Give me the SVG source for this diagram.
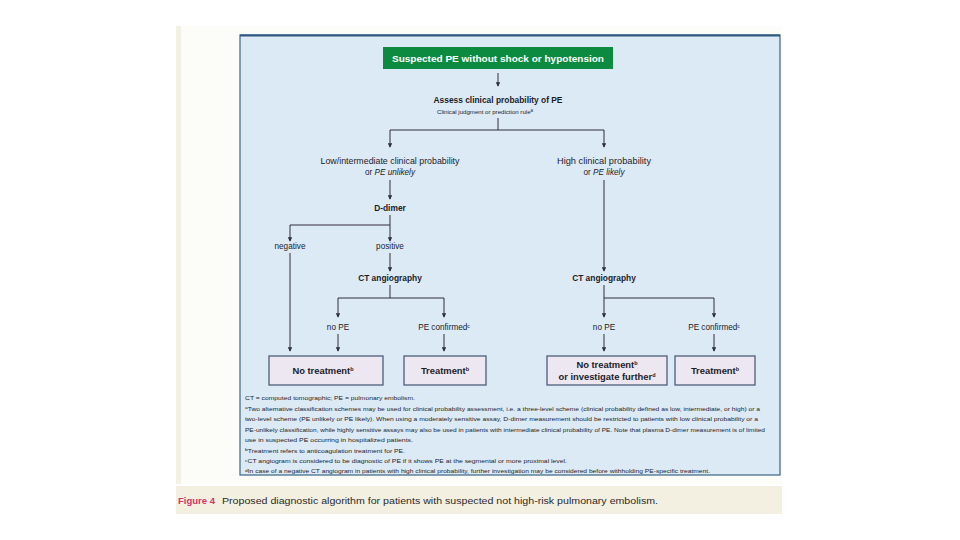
<svg xmlns="http://www.w3.org/2000/svg" width="960" height="540" viewBox="0 0 960 540">
<defs>
<style>
.t{font-family:"Liberation Sans","Open Sans",sans-serif;fill:#1c1c28}
.b{font-weight:bold}
.lbl{font-size:8.2px}
.hd{font-size:8.4px;font-weight:bold}
.bt{font-size:9.4px;font-weight:bold}
.bx{fill:#ece7f1;stroke:#4d5f78;stroke-width:1.3}
.fn{font-size:5.7px}
.c{fill:none;stroke:#2f2f3a;stroke-width:1}
</style>
<marker id="ah" viewBox="0 0 6 6" refX="5" refY="3" markerWidth="4.5" markerHeight="4.5" orient="auto" markerUnits="userSpaceOnUse">
<path d="M0,0 L6,3 L0,6 Z" fill="#2f2f3a"/>
</marker>
</defs>
<rect x="0" y="0" width="960" height="540" fill="#ffffff"/>
<rect x="176" y="26" width="606" height="458" fill="#fcfcf8"/>
<rect x="176" y="26" width="5" height="458" fill="#f3f1e4"/>
<rect x="176" y="486" width="606" height="28" fill="#f4f0e1"/>
<rect x="240" y="35" width="540" height="440" fill="#dceaf6" stroke="#3a6485" stroke-width="1.2"/>
<line x1="240" y1="35.5" x2="780" y2="35.5" stroke="#2b587c" stroke-width="2"/>

<g id="start">
<rect x="383" y="47" width="230" height="22" fill="#0c8a3f"/>
<text class="t b" x="498" y="61.5" font-size="9.4" text-anchor="middle" textLength="212" lengthAdjust="spacingAndGlyphs" style="fill:#ffffff">Suspected PE without shock or hypotension</text>
</g>
<g id="assess">
<text class="t hd" x="498" y="103" text-anchor="middle">Assess clinical probability of PE</text>
<text class="t" x="437" y="114" font-size="6.2" textLength="96" lengthAdjust="spacingAndGlyphs">Clinical judgment or prediction rule<tspan font-size="4.5" dy="-2">a</tspan></text>
</g>
<g id="low">
<text class="t lbl" x="390" y="164" text-anchor="middle" textLength="139" lengthAdjust="spacingAndGlyphs">Low/intermediate clinical probability</text>
<text class="t lbl" x="390" y="175" text-anchor="middle">or <tspan font-style="italic">PE unlikely</tspan></text>
</g>
<g id="high">
<text class="t lbl" x="604" y="164" text-anchor="middle" textLength="94" lengthAdjust="spacingAndGlyphs">High clinical probability</text>
<text class="t lbl" x="604" y="175" text-anchor="middle">or <tspan font-style="italic">PE likely</tspan></text>
</g>
<g id="ddimer">
<text class="t hd" x="390" y="211" text-anchor="middle">D-dimer</text>
</g>
<g id="negative">
<text class="t lbl" x="290" y="249" text-anchor="middle">negative</text>
</g>
<g id="positive">
<text class="t lbl" x="390" y="249" text-anchor="middle">positive</text>
</g>
<g id="ct1">
<text class="t hd" x="390" y="281" text-anchor="middle">CT angiography</text>
</g>
<g id="ct2">
<text class="t hd" x="604" y="281" text-anchor="middle">CT angiography</text>
</g>
<g id="nope1">
<text class="t lbl" x="338" y="330" text-anchor="middle">no PE</text>
</g>
<g id="confirmed1">
<text class="t lbl" x="444" y="330" text-anchor="middle">PE confirmed<tspan font-size="5" dy="-2.5">c</tspan></text>
</g>
<g id="nope2">
<text class="t lbl" x="604" y="330" text-anchor="middle">no PE</text>
</g>
<g id="confirmed2">
<text class="t lbl" x="714" y="330" text-anchor="middle">PE confirmed<tspan font-size="5" dy="-2.5">c</tspan></text>
</g>
<g id="notreat1">
<rect class="bx" x="269" y="356" width="114" height="29"/>
<text class="t bt" x="323" y="374" text-anchor="middle">No treatment<tspan font-size="5.5" dy="-3.5">b</tspan></text>
</g>
<g id="treat1">
<rect class="bx" x="404" y="356" width="82" height="29"/>
<text class="t bt" x="445" y="374" text-anchor="middle">Treatment<tspan font-size="5.5" dy="-3.5">b</tspan></text>
</g>
<g id="notreat2">
<rect class="bx" x="547" y="356" width="120" height="29"/>
<text class="t bt" x="607" y="368" text-anchor="middle">No treatment<tspan font-size="5.5" dy="-3.5">b</tspan></text>
<text class="t bt" x="607" y="380" text-anchor="middle">or investigate further<tspan font-size="5.5" dy="-3.5">d</tspan></text>
</g>
<g id="treat2">
<rect class="bx" x="675" y="356" width="80" height="29"/>
<text class="t bt" x="715" y="374" text-anchor="middle">Treatment<tspan font-size="5.5" dy="-3.5">b</tspan></text>
</g>

<g id="connectors">
<path class="c" d="M498 73 V86" marker-end="url(#ah)"/>
<path class="c" d="M498 118 V130 M390 130 H604"/>
<path class="c" d="M390 130 V147" marker-end="url(#ah)"/>
<path class="c" d="M604 130 V147" marker-end="url(#ah)"/>
<path class="c" d="M390 180 V199" marker-end="url(#ah)"/>
<path class="c" d="M390 215 V225 H290 V241" marker-end="url(#ah)"/>
<path class="c" d="M390 225 V241" marker-end="url(#ah)"/>
<path class="c" d="M390 253 V271" marker-end="url(#ah)"/>
<path class="c" d="M390 285 V298 M338 298 H444"/>
<path class="c" d="M338 298 V317" marker-end="url(#ah)"/>
<path class="c" d="M444 298 V317" marker-end="url(#ah)"/>
<path class="c" d="M338 334 V351" marker-end="url(#ah)"/>
<path class="c" d="M444 334 V351" marker-end="url(#ah)"/>
<path class="c" d="M290 253 V351" marker-end="url(#ah)"/>
<path class="c" d="M604 180 V271" marker-end="url(#ah)"/>
<path class="c" d="M604 285 V298 H714 V317" marker-end="url(#ah)"/>
<path class="c" d="M604 298 V317" marker-end="url(#ah)"/>
<path class="c" d="M604 334 V351" marker-end="url(#ah)"/>
<path class="c" d="M714 334 V351" marker-end="url(#ah)"/>
</g>

<g id="footnotes">
<text class="t fn" x="245" y="400" textLength="170" lengthAdjust="spacingAndGlyphs">CT = computed tomographic; PE = pulmonary embolism.</text>
<text class="t fn" x="245" y="410.5" textLength="515" lengthAdjust="spacingAndGlyphs"><tspan font-size="4.2" dy="-1.5">a</tspan><tspan dy="1.5">Two alternative classification schemes may be used for clinical probability assessment, i.e. a three-level scheme (clinical probability defined as low, intermediate, or high) or a</tspan></text>
<text class="t fn" x="245" y="421" textLength="513" lengthAdjust="spacingAndGlyphs">two-level scheme (PE unlikely or PE likely). When using a moderately sensitive assay, D-dimer measurement should be restricted to patients with low clinical probability or a</text>
<text class="t fn" x="245" y="431.5" textLength="520" lengthAdjust="spacingAndGlyphs">PE-unlikely classification, while highly sensitive assays may also be used in patients with intermediate clinical probability of PE. Note that plasma D-dimer measurement is of limited</text>
<text class="t fn" x="245" y="442" textLength="168" lengthAdjust="spacingAndGlyphs">use in suspected PE occurring in hospitalized patients.</text>
<text class="t fn" x="245" y="452.5" textLength="160" lengthAdjust="spacingAndGlyphs"><tspan font-size="4.2" dy="-1.5">b</tspan><tspan dy="1.5">Treatment refers to anticoagulation treatment for PE.</tspan></text>
<text class="t fn" x="245" y="463" textLength="322" lengthAdjust="spacingAndGlyphs"><tspan font-size="4.2" dy="-1.5">c</tspan><tspan dy="1.5">CT angiogram is considered to be diagnostic of PE if it shows PE at the segmental or more proximal level.</tspan></text>
<text class="t fn" x="245" y="473" textLength="465" lengthAdjust="spacingAndGlyphs"><tspan font-size="4.2" dy="-1.5">d</tspan><tspan dy="1.5">In case of a negative CT angiogram in patients with high clinical probability, further investigation may be considered before withholding PE-specific treatment.</tspan></text>
</g>

<g id="caption">
<text class="t" x="178" y="504" font-size="9.5" font-weight="bold" style="fill:#d23368">Figure 4</text>
<text class="t" x="222" y="504" font-size="8.6" textLength="436" lengthAdjust="spacingAndGlyphs" style="fill:#2a2a2a">Proposed diagnostic algorithm for patients with suspected not high-risk pulmonary embolism.</text>
</g>
</svg>
